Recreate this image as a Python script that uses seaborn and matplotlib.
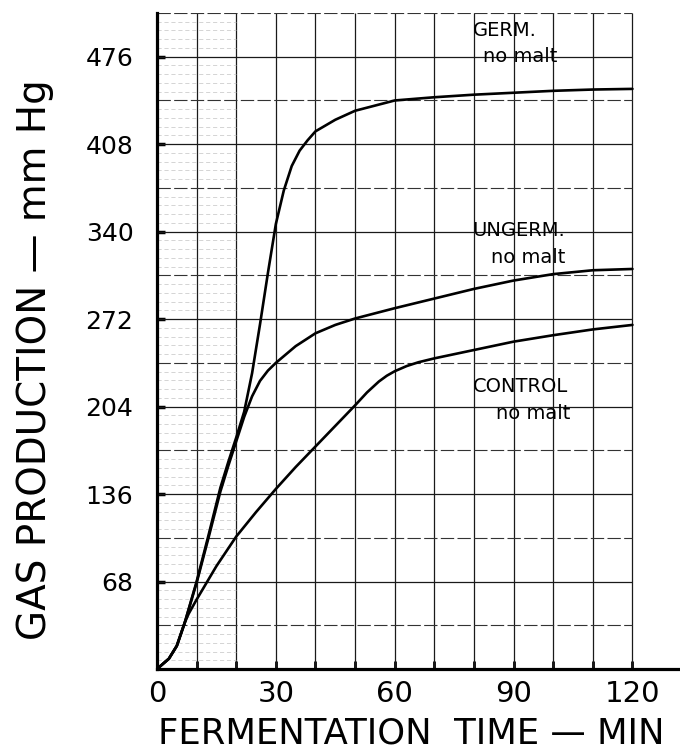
import matplotlib
matplotlib.use("Agg")
import numpy as np
import pandas as pd
import seaborn as sns
import matplotlib.pyplot as plt

# ---- data ----
germ_t = [0, 3, 5, 7, 10, 13, 16, 18, 20, 22, 24, 26, 28, 30, 32, 34, 36, 38, 40, 45, 50, 55, 60, 70, 80, 90, 100, 110, 120]
germ_p = [0, 8, 18, 36, 68, 104, 141, 161, 180, 200, 230, 268, 308, 346, 372, 391, 403, 411, 418, 427, 434, 438, 442, 444.5, 446.5, 448, 449.5, 450.5, 451]

ungerm_t = [0, 3, 5, 7, 10, 13, 16, 18, 20, 22, 24, 26, 28, 30, 35, 40, 45, 50, 55, 60, 70, 80, 90, 100, 110, 120]
ungerm_p = [0, 8, 18, 36, 67, 102, 138, 158, 177, 196, 212, 224, 232, 238, 251, 261, 267.5, 272.5, 276.5, 280.5, 288, 295.5, 302, 307, 310, 311]

control_t = [0, 3, 5, 7, 8, 10, 15, 20, 25, 30, 35, 40, 45, 50, 53, 56, 58, 60, 63, 66, 70, 80, 90, 100, 110, 120]
control_p = [0, 8, 18, 36, 43, 54, 80, 103, 122, 140, 157, 173, 189, 205, 215, 223.5, 228, 231.5, 235.5, 238.5, 241.5, 248, 254.5, 259.5, 264, 267.5]

series_names = ["GERM.", "UNGERM.", "CONTROL"]
x_ticks = [0, 10, 20, 30, 40, 50, 60, 70, 80, 90, 100, 110, 120]
x_tick_labels = ["0", "", "", "30", "", "", "60", "", "", "90", "", "", "120"]
y_ticks = [68, 136, 204, 272, 340, 408, 476]
y_tick_labels = ["68", "136", "204", "272", "340", "408", "476"]

label_x = [79.6, 79.6, 79.6]
label_y = [496.7, 340.8, 220.0]
sub_x = [82.4, 84.2, 85.6]
sub_y = [476.0, 320.0, 198.7]

# ---- build long table ----
df = pd.concat([
    pd.DataFrame({"t": germ_t, "p": germ_p, "series": "GERM."}),
    pd.DataFrame({"t": ungerm_t, "p": ungerm_p, "series": "UNGERM."}),
    pd.DataFrame({"t": control_t, "p": control_p, "series": "CONTROL"}),
], ignore_index=True)

sns.set_theme(style="white")
plt.rcParams['font.family'] = ['DejaVu Sans']
plt.rcParams['text.color'] = 'black'
plt.rcParams['xtick.color'] = 'black'
plt.rcParams['ytick.color'] = 'black'

fig = plt.figure(figsize=(6.8, 7.56), dpi=100)
ax = fig.add_axes([157 / 680, 87 / 756, 523 / 680, 656 / 756])

XMAX_GRID = 120
YMAX = 510

# graph-paper grid
ax.vlines(np.arange(10, XMAX_GRID + 1, 10), 0, YMAX, colors="#1a1a1a", lw=0.9, zorder=1)
for k in range(1, 16):
    yv = 34 * k
    if k % 2 == 0:
        ax.hlines(yv, 0, XMAX_GRID, colors="#1a1a1a", lw=0.9, zorder=1)
    else:
        ax.hlines(yv, 0, XMAX_GRID, colors="#333333", lw=0.8, linestyles=(0, (12, 3)), zorder=1)
# faint minor lines (left part of the paper)
for yv in np.arange(6.8, YMAX, 6.8):
    if abs(yv / 34 - round(yv / 34)) < 1e-6:
        continue
    ax.hlines(yv, 0, 20, colors="#c4c4c4", lw=0.5, linestyles=(0, (6, 4)), zorder=1)

sns.lineplot(data=df, x="t", y="p", hue="series", palette={n: "black" for n in series_names},
             estimator=None, sort=False, legend=False, lw=1.9, ax=ax, zorder=3)

ax.set_xlim(0, 132)
ax.set_ylim(0, YMAX)
ax.set_xlabel("")
ax.set_ylabel("")

ax.set_xticks(x_ticks, x_tick_labels)
ax.set_yticks(y_ticks, y_tick_labels)
ax.tick_params(axis="x", direction="in", length=6, width=2, pad=8, labelsize=21,
               color="black", labelcolor="black", bottom=True)
ax.tick_params(axis="y", direction="in", length=6, width=2.5, pad=17, labelsize=18,
               color="black", labelcolor="black", left=True)

for s in ["top", "right"]:
    ax.spines[s].set_visible(False)
for s in ["left", "bottom"]:
    ax.spines[s].set_linewidth(2.3)
    ax.spines[s].set_color("black")

for name, lx, ly, sx, sy in zip(series_names, label_x, label_y, sub_x, sub_y):
    ax.text(lx, ly, name, ha="left", va="center", fontsize=14, color="black", zorder=4)
    ax.text(sx, sy, "no malt", ha="left", va="center", fontsize=14, color="black", zorder=4)

fig.text(411 / 680, 22 / 756, "FERMENTATION  TIME — MIN", ha="center", va="center", fontsize=25.5, color="black")
fig.text(35 / 680, 396 / 756, "GAS PRODUCTION — mm Hg", ha="center", va="center", rotation=90, fontsize=28, color="black")

fig.savefig("out.png", dpi=100, facecolor="white")
